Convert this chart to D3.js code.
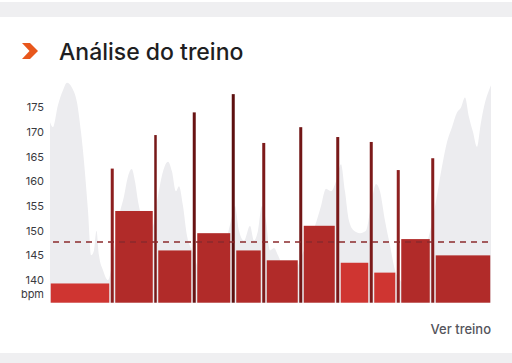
<!DOCTYPE html>
<html>
<head>
<meta charset="utf-8">
<script src="https://cdn.jsdelivr.net/npm/d3@7"></script>
<style>
  body { margin: 0; background: #fff; }
  svg { display: block; font-family: Inter, "Noto Sans", sans-serif; }
</style>
</head>
<body>
<svg width="512" height="363"></svg>
<script>
// interval segments (minutes), alternating block / short effort
var segStart = [0, 6.0, 6.45, 10.35, 10.75, 14.2, 14.65, 18.1, 18.55, 21.15, 21.6,
  24.85, 25.3, 28.55, 29.0, 31.9, 32.35, 34.6, 35.05, 38.05, 38.5];
var segBpm = [139.3, 162.6, 154, 169.4, 146, 174, 149.5, 177.7, 146, 167.8, 144,
  171, 151, 169, 143.5, 168, 141.5, 162.3, 148.3, 164.7, 145];
var totalTime = 44.1;

// heart rate trace in the background
var hrTime = [0, 0.3, 0.8, 1.3, 1.7, 2.2, 2.7, 3.1, 3.4, 3.8, 4.1, 4.4, 4.65, 4.9, 5.3, 5.8,
  6.2, 6.8, 7.4, 7.8, 8.17, 8.5, 8.8, 9.3, 9.8, 10.3, 10.8, 11.3, 11.8, 12.2, 12.6, 12.9,
  13.3, 13.7, 14.2, 14.7, 15.3, 15.7, 16.2, 16.8, 17.5, 18.1, 18.5, 18.9, 19.4, 20.0, 20.4,
  20.8, 21.2, 21.6, 22.0, 22.4, 22.8, 23.4, 24.0, 24.6, 25.2, 25.8, 26.5, 27.1, 27.6, 28.1,
  28.6, 29.1, 29.5, 29.9, 30.4, 31.0, 31.6, 32.1, 32.6, 33.0, 33.5, 34.0, 34.5, 35.0, 35.6,
  36.2, 36.8, 37.4, 37.9, 38.6, 39.2, 39.7, 40.2, 40.7, 41.1, 41.5, 41.9, 42.3, 42.7, 43.1,
  43.5, 43.9, 44.1];
var hrBpm = [172, 171, 175.5, 178.5, 180, 179, 176, 170, 164, 154, 145, 146, 150, 145, 142, 140,
  143, 152, 157, 161, 162.5, 160, 156, 152, 150, 151, 157, 162, 164, 162, 158, 159,
  155, 149, 146, 143, 139, 137, 139, 143, 147, 152, 155, 150, 148, 151, 148,
  150, 155, 152, 146, 146.5, 145, 142, 140, 142, 145, 148, 151, 155, 158.5, 158,
  160, 163.5, 158, 152, 150, 149.5, 150, 155, 159.5, 158, 152, 147, 142, 140, 139,
  140, 142, 146, 149, 156, 163, 168, 171, 174, 175, 177, 173, 170, 167, 172,
  176, 178.5, 179.5];

var avgBpm = 147.7;
var yTicks = [140, 145, 150, 155, 160, 165, 170, 175];

var svg = d3.select('svg');

// page bands
svg.append('rect').attr('x', 0).attr('y', 2).attr('width', 512).attr('height', 15).attr('fill', '#efeff1');
svg.append('rect').attr('x', 0).attr('y', 353).attr('width', 512).attr('height', 10).attr('fill', '#efeff1');

// header
svg.append('path')
  .attr('d', 'M22,43 L30,43 L38,51 L30,59 L22,59 L29.5,51 Z')
  .attr('fill', '#e8571c');
svg.append('text')
  .attr('x', 59).attr('y', 60)
  .attr('font-size', 23).attr('font-weight', 500).attr('fill', '#1e1e22')
  .text('Análise do treino');

var x = d3.scaleLinear().domain([0, totalTime]).range([50, 491]);
var y = d3.scaleLinear().domain([135.4, 180]).range([302.7, 82.8]);

// grey trace
var area = d3.area()
  .x(function(d, i) { return x(hrTime[i]); })
  .y0(y(135.4))
  .y1(function(d) { return y(d); })
  .curve(d3.curveMonotoneX);
svg.append('path').datum(hrBpm).attr('d', area).attr('fill', '#ececef');

// segments
var segs = segStart.map(function(s, i) {
  var e = i < segStart.length - 1 ? segStart[i + 1] : totalTime;
  return {start: s, end: e, bpm: segBpm[i], spike: (e - s) < 1};
});
var spikeColor = d3.scaleLinear().domain([162, 178]).range(['#8f2020', '#5c0f0f']);

svg.selectAll('rect.seg').data(segs)
  .enter().append('rect')
  .attr('class', 'seg')
  .attr('x', function(d) { return x(d.start) + 0.75; })
  .attr('width', function(d) { return x(d.end) - x(d.start) - 1.5; })
  .attr('y', function(d) { return y(d.bpm); })
  .attr('height', function(d) { return y(135.4) - y(d.bpm); })
  .attr('fill', function(d) {
    if (d.spike) return spikeColor(d.bpm);
    return d.bpm < 144 ? '#cf3531' : '#b12b29';
  });

// average line
svg.append('line')
  .attr('x1', x(0) + 3).attr('x2', x(totalTime))
  .attr('y1', y(avgBpm)).attr('y2', y(avgBpm))
  .attr('stroke', '#8a2a2c').attr('stroke-width', 1.5)
  .attr('stroke-dasharray', '6,5');

// y axis
var yAxis = svg.append('g')
  .attr('transform', 'translate(44,0)')
  .call(d3.axisLeft(y).tickValues(yTicks).tickSize(0).tickPadding(0));
yAxis.select('.domain').remove();
yAxis.selectAll('text')
  .attr('font-family', 'Inter, "Noto Sans", sans-serif')
  .attr('font-size', 11).attr('fill', '#3a3a3e');

svg.append('text')
  .attr('x', 44).attr('y', 294).attr('dy', '0.35em')
  .attr('text-anchor', 'end')
  .attr('font-size', 11).attr('fill', '#3a3a3e')
  .text('bpm');

svg.append('text')
  .attr('x', 491).attr('y', 334)
  .attr('text-anchor', 'end')
  .attr('font-size', 13).attr('font-weight', 500).attr('fill', '#55555c')
  .text('Ver treino');
</script>
</body>
</html>
